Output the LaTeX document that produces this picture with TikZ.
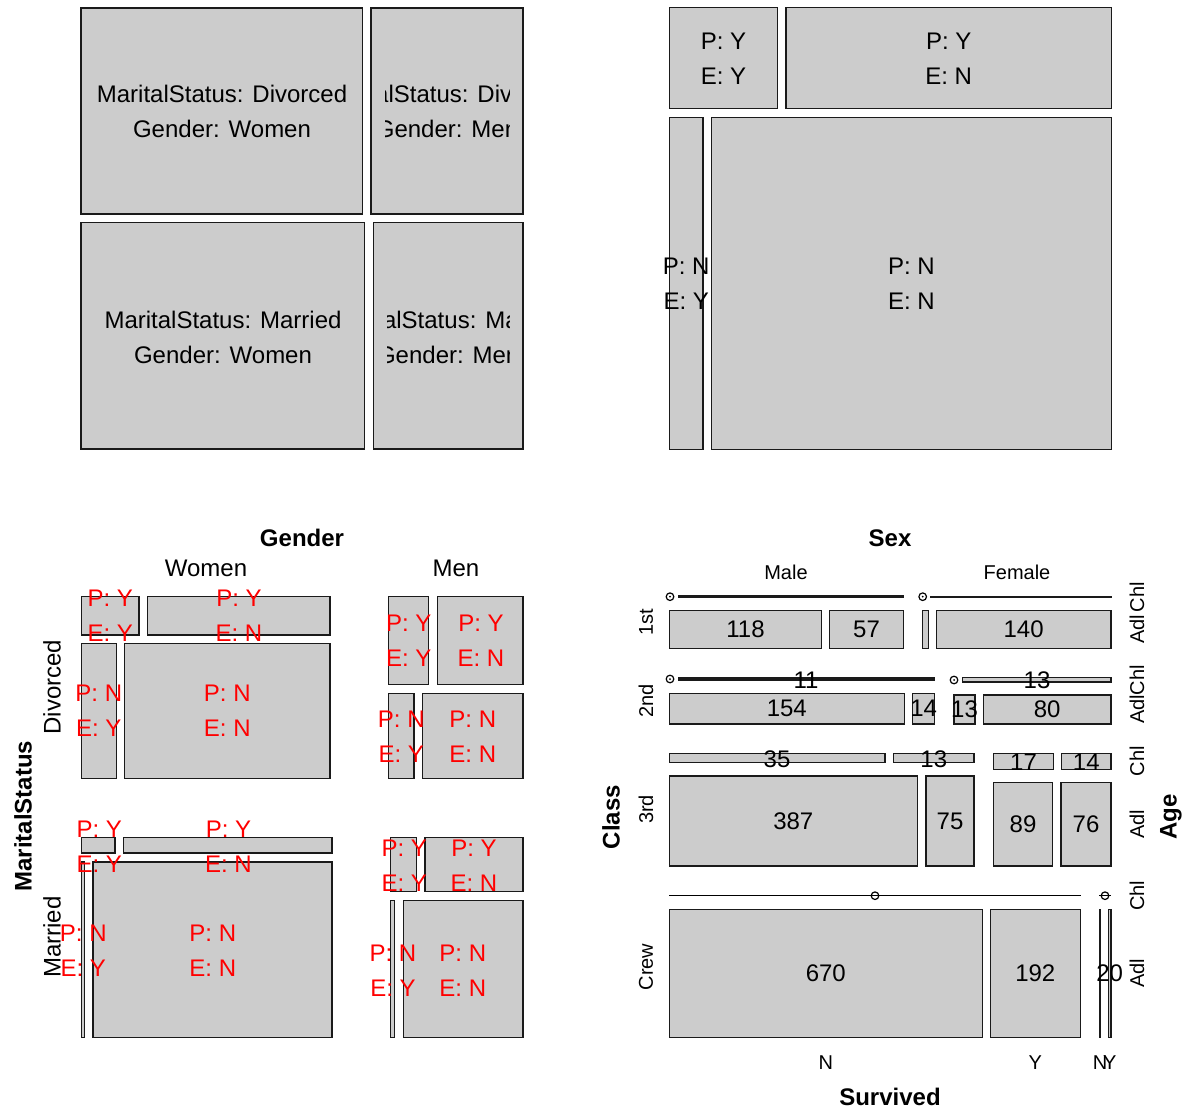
\documentclass[tikz,border=0pt]{standalone}
\usepackage{fontspec}
\setmainfont{Liberation Sans}
\definecolor{cellgray}{HTML}{CCCCCC}
\definecolor{edge}{HTML}{1A1A1A}
\begin{document}
\begin{tikzpicture}[x=1pt,y=-1pt,
  cell/.style={fill=cellgray,draw=edge,line width=1.15pt},
  txt/.style={font=\fontsize{24}{35}\selectfont,align=center,inner sep=0pt},
  rtxt/.style={txt,text=red},
  num/.style={font=\fontsize{24}{28}\selectfont,inner sep=0pt},
  lev/.style={font=\fontsize{20}{24}\selectfont,inner sep=0pt},
  levbig/.style={font=\fontsize{24}{28}\selectfont,inner sep=0pt},
  ttl/.style={font=\bfseries\fontsize{24}{28}\selectfont,inner sep=0pt},
  zeroline/.style={draw=black,line width=1.4pt},
  zerocirc/.style={draw=black,line width=1.2pt,fill=white}]
\useasboundingbox (0,0) rectangle (1189,1111);
\fill[white] (0,0) rectangle (1189,1111);

% ---------------- Panel 1 ----------------
\path[cell] (81,8) rectangle (362.7,214);
\path[cell] (371,8) rectangle (523,214);
\path[cell] (81,222.7) rectangle (364.7,449);
\path[cell] (373.3,222.7) rectangle (523,449);
\node[txt] (pa) at (222,111.5) {MaritalStatus: Divorced\\Gender: Women};
\begin{scope}
  \clip (385,8) rectangle (509,214);
  \node[txt] (pb) at (447,111.5) {MaritalStatus: Divorced\\Gender: Men};
\end{scope}
\node[txt] (pc) at (223,337) {MaritalStatus: Married\\Gender: Women};
\begin{scope}
  \clip (387,222.7) rectangle (509.5,449);
  \node[txt] (pd) at (448.2,337) {MaritalStatus: Married\\Gender: Men};
\end{scope}

% ---------------- Panel 2 ----------------
\path[cell] (669.3,7.3) rectangle (777.7,108.7);
\path[cell] (786,7.3) rectangle (1111.3,108.7);
\path[cell] (669.3,117.3) rectangle (703,449.3);
\path[cell] (711.7,117.3) rectangle (1111.3,449.3);
\node[txt] (qa) at (723.5,58.3) {P: Y\\E: Y};
\node[txt] (qb) at (948.7,58.3) {P: Y\\E: N};
\node[txt] (qc) at (686.2,283.3) {P: N\\E: Y};
\node[txt] (qd) at (911.5,283.3) {P: N\\E: N};

% ---------------- Panel 3 ----------------
% Divorced, Women
\path[cell] (81.3,596.3) rectangle (139,635);
\path[cell] (147.7,596.3) rectangle (330,635);
\path[cell] (81.3,643.7) rectangle (116.3,778.7);
\path[cell] (124.7,643.7) rectangle (330,778.7);
% Divorced, Men
\path[cell] (388.7,596.3) rectangle (428.7,684.3);
\path[cell] (437.3,596.3) rectangle (523,684.3);
\path[cell] (388.7,693.3) rectangle (414,778.7);
\path[cell] (422.3,693.3) rectangle (523,778.7);
% Married, Women
\path[cell] (81.7,837.7) rectangle (115,853);
\path[cell] (123.7,837.7) rectangle (332,853);
\path[cell] (81.7,862) rectangle (84.7,1037.7);
\path[cell] (93,862) rectangle (332,1037.7);
% Married, Men
\path[cell] (390.7,837.7) rectangle (416.3,891.7);
\path[cell] (425,837.7) rectangle (523,891.7);
\path[cell] (390.7,900.7) rectangle (394.7,1037.7);
\path[cell] (403.3,900.7) rectangle (523,1037.7);

\node[ttl] (gender) at (302,538) {Gender};
\node[levbig] (women) at (206,568.5) {Women};
\node[levbig] (men) at (456,568.5) {Men};
\node[ttl,rotate=90] (marital) at (23,816) {MaritalStatus};
\node[levbig,rotate=90] (divorced) at (52,687) {Divorced};
\node[levbig,rotate=90] (married) at (52,937) {Married};

\node[rtxt] (r1) at (110.2,615.7) {P: Y\\E: Y};
\node[rtxt] (r2) at (239,615.7) {P: Y\\E: N};
\node[rtxt] (r3) at (98.8,711.2) {P: N\\E: Y};
\node[rtxt] (r4) at (227.3,711.2) {P: N\\E: N};
\node[rtxt] (r5) at (408.7,640.5) {P: Y\\E: Y};
\node[rtxt] (r6) at (481,640.5) {P: Y\\E: N};
\node[rtxt] (r7) at (401.3,736.3) {P: N\\E: Y};
\node[rtxt] (r8) at (472.8,736.3) {P: N\\E: N};
\node[rtxt] (r9) at (99.3,846.5) {P: Y\\E: Y};
\node[rtxt] (r10) at (228.5,846.5) {P: Y\\E: N};
\node[rtxt] (r11) at (83.3,950.8) {P: N\\E: Y};
\node[rtxt] (r12) at (212.8,950.8) {P: N\\E: N};
\node[rtxt] (r13) at (404.2,865.8) {P: Y\\E: Y};
\node[rtxt] (r14) at (474,865.8) {P: Y\\E: N};
\node[rtxt] (r15) at (393,970.5) {P: N\\E: Y};
\node[rtxt] (r16) at (462.8,970.5) {P: N\\E: N};

% ---------------- Panel 4 ----------------
% 1st
\path[cell] (678.3,596) rectangle (903.3,597.4);
\path[cell] (931,596.4) rectangle (1111,597);
\path[cell] (669.3,610.7) rectangle (821.7,648.3);
\path[cell] (829.7,610.7) rectangle (903.3,648.3);
\path[cell] (922.7,610.7) rectangle (928.3,648.3);
\path[cell] (936.3,610.7) rectangle (1111,648.3);
\path[zerocirc] (670,596.7) circle (3.8);
\fill (670,596.7) circle (1);
\path[zerocirc] (922.7,596.7) circle (3.8);
\fill (922.7,596.7) circle (1);
% 2nd
\path[cell] (678.3,678) rectangle (934.3,680);
\path[cell] (962.7,677.7) rectangle (1111,682);
\path[cell] (669.3,693.3) rectangle (904.3,724);
\path[cell] (912.7,693.3) rectangle (934.7,724);
\path[cell] (954,695) rectangle (975,724);
\path[cell] (983.3,695) rectangle (1111,724);
\path[zerocirc] (670,679) circle (3.8);
\fill (670,679) circle (1);
\path[zerocirc] (954,680) circle (3.8);
\fill (954,680) circle (1);
% 3rd
\path[cell] (669.3,753.3) rectangle (885,762.7);
\path[cell] (893.7,753.3) rectangle (974,762.7);
\path[cell] (993.7,753.3) rectangle (1053.3,769.3);
\path[cell] (1061.7,753.3) rectangle (1111,769.3);
\path[cell] (669.3,776) rectangle (917.3,866);
\path[cell] (926,776) rectangle (974,866);
\path[cell] (993.7,782.3) rectangle (1052.3,866);
\path[cell] (1061,782.3) rectangle (1111,866);
% Crew
\coordinate (cmA) at (669.3,895.7);
\coordinate (cmB) at (1080.7,895.7);
\coordinate (cfA) at (1099,895.7);
\coordinate (cfB) at (1111,895.7);
\draw[zeroline] (cmA) -- (cmB);
\draw[zeroline] (cfA) -- (cfB);
\draw[black,line width=1.2pt] (875,895.7) circle (3.8);
\draw[black,line width=1.2pt] (1105,895.7) circle (3.8);
\path[cell] (669.3,909.3) rectangle (982.3,1037.7);
\path[cell] (990.3,909.3) rectangle (1080.3,1037.7);
\path[cell] (1099.6,909.3) rectangle (1100.4,1037.7);
\path[cell] (1108.3,909.3) rectangle (1111,1037.7);

% cell counts
\node[num] (n118) at (745.5,629.5) {118};
\node[num] (n57) at (866.5,629.5) {57};
\node[num] (n140) at (1023.6,629.5) {140};
\node[num] (n11) at (806,680) {11};
\node[num] (n13a) at (1037,680.5) {13};
\node[num] (n154) at (786.8,708.7) {154};
\node[num] (n14a) at (923.7,708.7) {14};
\node[num] (n13b) at (964.5,709.5) {13};
\node[num] (n80) at (1047.2,709.5) {80};
\node[num] (n35) at (777,759) {35};
\node[num] (n13c) at (933.8,759) {13};
\node[num] (n17) at (1023.5,762) {17};
\node[num] (n14b) at (1086.3,762) {14};
\node[num] (n387) at (793.3,821.5) {387};
\node[num] (n75) at (950,821.5) {75};
\node[num] (n89) at (1023,824.5) {89};
\node[num] (n76) at (1086,824.5) {76};
\node[num] (n670) at (825.8,973.5) {670};
\node[num] (n192) at (1035.3,973.5) {192};
\node[num] (n20) at (1109.7,973.5) {20};

% labels
\node[ttl] (sex) at (890,538) {Sex};
\node[lev] (male) at (786,572) {Male};
\node[lev] (female) at (1017,572) {Female};
\node[ttl,rotate=90] (class) at (611,817) {Class};
\node[lev,rotate=90] (c1) at (646,622) {1st};
\node[lev,rotate=90] (c2) at (646,701) {2nd};
\node[lev,rotate=90] (c3) at (646,809.5) {3rd};
\node[lev,rotate=90] (c4) at (646,967) {Crew};
\node[lev,rotate=90] (a1c) at (1137,597) {Chl};
\node[lev,rotate=90] (a1a) at (1137,629.5) {Adl};
\node[lev,rotate=90] (a2c) at (1137,680) {Chl};
\node[lev,rotate=90] (a2a) at (1137,709.5) {Adl};
\node[lev,rotate=90] (a3c) at (1137,761.3) {Chl};
\node[lev,rotate=90] (a3a) at (1137,824) {Adl};
\node[lev,rotate=90] (a4c) at (1137,895.7) {Chl};
\node[lev,rotate=90] (a4a) at (1137,973.5) {Adl};
\node[ttl,rotate=90] (age) at (1171,817) {Age};
\node[lev] (sN) at (825.8,1063) {N};
\node[lev] (sY) at (1035.3,1063) {Y};
\node[lev] (sN2) at (1100,1063) {N};
\node[lev] (sY2) at (1109.7,1063) {Y};
\node[ttl] (surv) at (890,1097) {Survived};
\end{tikzpicture}
\end{document}
